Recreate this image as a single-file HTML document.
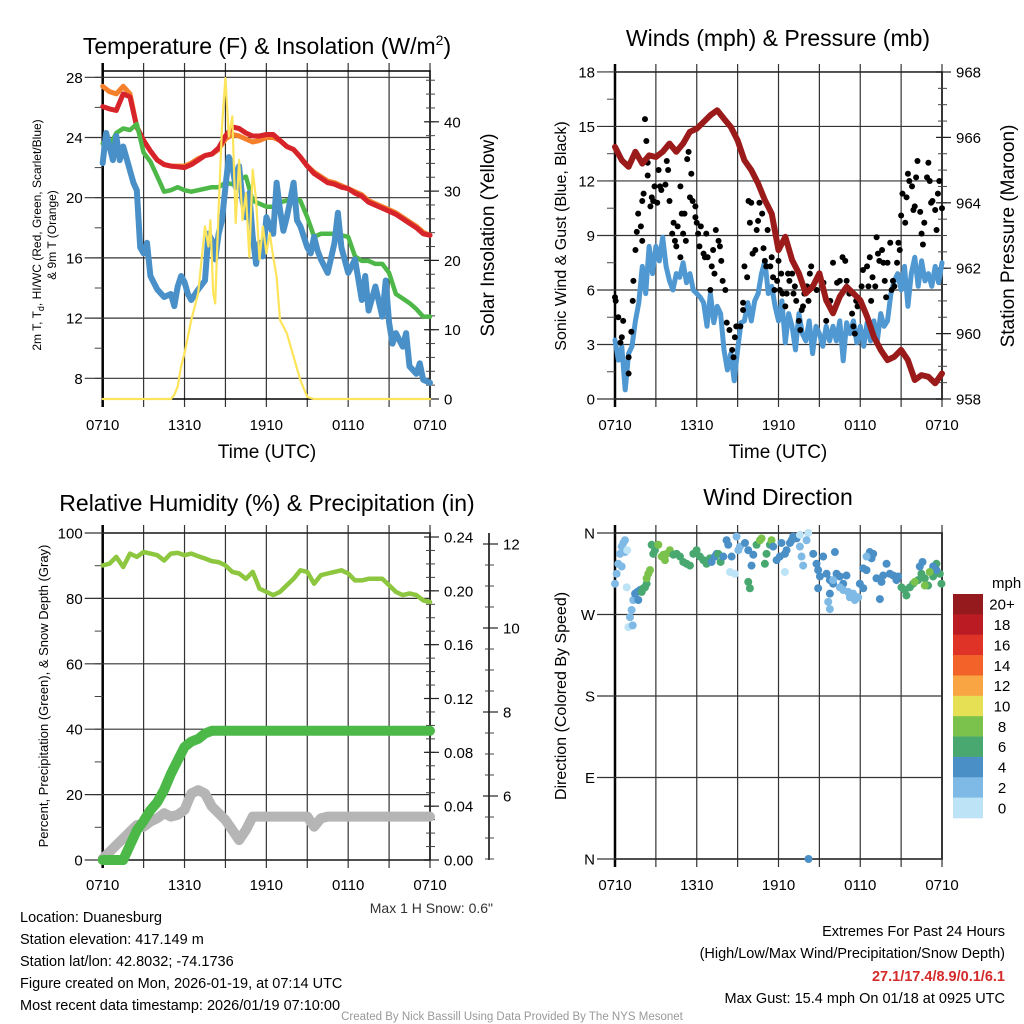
<!DOCTYPE html>
<html><head><meta charset="utf-8"><style>
html,body{margin:0;padding:0;background:#fff;}
svg{display:block;font-family:"Liberation Sans",sans-serif;}
</style></head><body>
<svg id="fig" width="1024" height="1024" viewBox="0 0 1024 1024" xmlns="http://www.w3.org/2000/svg">
<text x="267" y="54" font-size="23" text-anchor="middle">Temperature (F) &amp; Insolation (W/m<tspan font-size="14" dy="-9">2</tspan><tspan dy="9">)</tspan></text>
<text x="778" y="46" font-size="23" text-anchor="middle">Winds (mph) &amp; Pressure (mb)</text>
<text x="267" y="511" font-size="23" text-anchor="middle">Relative Humidity (%) &amp; Precipitation (in)</text>
<text x="778" y="505" font-size="23" text-anchor="middle">Wind Direction</text>

<text x="267" y="458" font-size="19" text-anchor="middle">Time (UTC)</text>
<text x="778" y="458" font-size="19" text-anchor="middle">Time (UTC)</text>

<text transform="translate(41,235) rotate(-90)" font-size="12" text-anchor="middle">2m T, T<tspan font-size="9" dy="3">d</tspan><tspan dy="-3">, HI/WC (Red, Green, Scarlet/Blue)</tspan></text>
<text transform="translate(56,235) rotate(-90)" font-size="12" text-anchor="middle">&amp; 9m T (Orange)</text>
<text transform="translate(494,235) rotate(-90)" font-size="19" text-anchor="middle">Solar Insolation (Yellow)</text>
<text transform="translate(566,236) rotate(-90)" font-size="16" text-anchor="middle">Sonic Wind &amp; Gust (Blue, Black)</text>
<text transform="translate(1014,236) rotate(-90)" font-size="19" text-anchor="middle">Station Pressure (Maroon)</text>
<text transform="translate(48,696) rotate(-90)" font-size="13" text-anchor="middle">Percent, Precipitation (Green), &amp; Snow Depth (Gray)</text>
<text transform="translate(566,696) rotate(-90)" font-size="16" text-anchor="middle">Direction (Colored By Speed)</text>

<text x="493" y="913" font-size="14" text-anchor="end" fill="#333">Max 1 H Snow: 0.6"</text>
<g font-size="14.5">
<text x="20" y="922">Location: Duanesburg</text>
<text x="20" y="944">Station elevation: 417.149 m</text>
<text x="20" y="966">Station lat/lon: 42.8032; -74.1736</text>
<text x="20" y="988">Figure created on Mon, 2026-01-19, at 07:14 UTC</text>
<text x="20" y="1010">Most recent data timestamp: 2026/01/19 07:10:00</text>
</g>
<g font-size="14.5" text-anchor="end">
<text x="1005" y="936">Extremes For Past 24 Hours</text>
<text x="1005" y="958">(High/Low/Max Wind/Precipitation/Snow Depth)</text>
<text x="1005" y="981" fill="#d42a2a" font-weight="bold">27.1/17.4/8.9/0.1/6.1</text>
<text x="1005" y="1003">Max Gust: 15.4 mph On 01/18 at 0925 UTC</text>
</g>
<text x="512" y="1020" font-size="11.5" text-anchor="middle" fill="#999">Created By Nick Bassill Using Data Provided By The NYS Mesonet</text>
</svg>
<script>
// ---------- data ----------
const xTickLabels = ['0710','1310','1910','0110','0710'];
const xTickHours = [0,6,12,18,24];
const halfStep = 0.5;
const redT = [26.05,25.9,25.8,26.9,26.7,24.7,23.8,23.1,22.5,22.2,22.1,22.05,22.0,22.2,22.5,22.8,22.9,23.3,24.1,24.7,24.6,24.3,24.1,24.1,24.2,24.2,23.8,23.4,23.2,22.7,22.1,21.6,21.3,21.0,20.9,20.7,20.6,20.3,20.1,19.7,19.5,19.3,19.1,18.9,18.6,18.3,18.0,17.6,17.5];
const orangeT9 = [27.4,27.05,26.9,27.4,26.9,24.7,23.8,23.1,22.5,22.2,22.1,22.1,22.1,22.3,22.6,22.8,22.9,23.2,23.9,24.2,24.1,23.9,23.7,23.8,24.0,24.0,23.8,23.4,23.2,22.7,22.1,21.7,21.4,21.1,21.0,20.8,20.6,20.4,20.2,19.8,19.6,19.4,19.2,19.0,18.7,18.4,18.1,17.7,17.5];
const greenTd = [23.6,23.4,24.3,24.6,24.5,24.9,23.0,22.4,21.4,20.4,20.5,20.7,20.5,20.4,20.5,20.6,20.7,20.7,21.0,20.9,21.2,21.4,19.8,19.6,19.4,19.4,19.7,19.8,20.0,19.8,18.7,17.4,17.6,17.6,17.6,17.5,17.4,16.1,15.8,15.8,15.6,15.6,15.0,13.6,13.3,13.0,12.6,12.1,12.1];
const wcHours = [0,0.25,0.5,0.75,1,1.25,1.5,2,2.25,2.5,2.75,3,3.25,3.5,4,4.5,5,5.25,5.5,5.75,6,6.25,6.5,7,7.5,7.75,8,8.25,8.5,8.75,9,9.25,9.5,9.75,10,10.25,10.5,10.75,11,11.25,11.5,11.75,12,12.5,12.75,13,13.25,13.5,13.75,14,14.25,14.5,15,15.25,15.5,15.75,16,16.5,17,17.25,17.5,18,18.5,19,19.25,19.5,20,20.5,20.75,21,21.25,21.5,22,22.25,22.5,23,23.25,23.5,24];
const wcVals = [22.3,24.3,23.4,22.5,24.1,22.5,23.4,21.8,21.0,20.5,16.7,16.3,17.0,14.8,13.9,13.4,13.6,12.8,14.1,14.8,14.4,13.6,13.2,13.9,14.5,17.6,17.2,15.9,17.6,18.5,20.7,22.7,22.1,20.7,22.1,19.8,18.7,20.3,17.4,15.6,17.0,16.1,18.7,17.6,21.0,19.2,17.8,18.7,19.8,21.0,18.5,18.1,16.7,16.3,17.4,16.5,15.9,15.0,17.0,19.0,16.7,15.0,15.9,13.2,14.8,12.5,14.1,12.1,14.5,11.7,10.3,11.0,10.1,11.0,8.8,8.3,9.0,7.9,7.7];
const solarHours = [0,5,5.25,5.5,5.75,6,6.5,7,7.25,7.5,7.75,7.9,8.1,8.25,8.5,8.75,9,9.25,9.5,9.75,10,10.25,10.5,10.75,11,11.25,11.5,11.75,12,12.25,12.5,12.75,13,13.5,14,14.5,15,15.5,24];
const solarVals = [0,0,0.6,1.8,4.7,6.6,11.4,15.3,20.1,24.9,22,25.8,15.3,13.8,27.3,39.3,46.3,37.9,40.8,25.4,34.5,25.8,29.7,20.5,33.1,28.7,20.1,24.9,21.0,23.9,20.5,17.7,11.4,9.5,6.1,2.7,0.3,0,0];
const tempTicks = [8,12,16,20,24,28];
const solarTicks = [0,10,20,30,40];

const pressure = [965.71,965.30,965.10,965.56,965.2,965.45,965.4,965.56,965.81,965.56,965.81,966.17,966.27,966.47,966.68,966.83,966.57,966.32,965.91,965.30,965.0,964.59,964.08,963.67,962.55,962.96,962.25,961.84,961.23,961.43,961.84,961.02,960.62,961.13,961.43,961.23,961.02,960.52,959.9,959.5,959.19,959.29,959.5,959.19,958.58,958.73,958.68,958.48,958.78];
const windStep = 0.25;
const windSpeed = [3.24,2.14,2.88,0.5,2.5,2.9,4.3,5.3,7.3,5.8,8.4,6.9,8.4,7.6,8.9,7.3,6.5,6.0,6.9,6.7,7.5,6.4,6.9,6.0,5.8,5.6,5.3,4.0,5.8,4.2,5.1,4.7,2.7,1.6,2.5,1.0,2.7,4.2,4.3,5.3,4.3,5.4,5.8,6.9,7.6,5.8,6.2,5.1,4.3,5.4,3.1,4.7,4.0,2.7,4.7,3.6,3.2,4.3,2.5,4.0,3.6,2.9,4.0,3.2,4.0,3.2,4.3,2.1,4.2,3.6,4.3,3.1,4.0,2.9,4.2,3.2,4.3,3.2,4.7,4.0,4.3,5.8,6.5,6.9,6.0,7.3,5.1,6.9,7.8,6.2,7.6,6.5,6.9,6.2,7.3,6.4,7.5];
const gustHours = [0,0.05,0.24,0.5,0.4,0.6,1,1,1.2,1.3,1.35,1.5,1.6,1.7,1.9,2,2,2.1,2.2,2.3,2.4,2.4,2.6,2.7,2.8,2.9,3.1,3.2,3.3,3.4,3.7,3.8,3.9,4.0,4.2,4.3,4.4,4.5,4.6,4.8,4.8,4.9,5,5.1,5.2,5.3,5.4,5.5,5.6,5.7,5.9,5.9,6,6.1,6.2,6.3,6.5,6.6,6.7,6.8,7,7.1,7.2,7.3,7.4,7.6,7.7,7.8,7.9,8.1,8.2,8.4,8.6,8.7,8.8,8.9,9.2,9.4,9.4,9.5,9.7,9.8,9.9,10,10.1,10.3,10.4,10.5,10.6,10.8,10.9,11,11.1,11.2,11.4,11.5,11.6,11.7,11.9,12,12.1,12.2,12.3,12.5,12.6,12.7,12.8,13,13.1,13.2,13.3,13.5,13.6,13.7,13.8,13.9,14.1,14.2,14.3,14.4,14.5,14.8,15,15.3,15.5,15.8,16,16.3,16.5,16.7,16.9,17,17.2,17.4,17.5,17.6,17.7,17.8,18.1,18.2,18.5,18.6,18.7,18.8,18.9,19.1,19.2,19.3,19.4,19.6,19.7,19.8,19.9,20,20.2,20.3,20.4,20.5,20.7,20.8,20.9,21,21.1,21.3,21.4,21.5,21.6,21.8,21.9,22,22.1,22.2,22.4,22.5,22.6,22.7,22.9,23,23.1,23.2,23.3,23.5,23.6,23.7,23.8,24];
const gustVals = [5.6,5.4,4.5,3.4,3.1,4.3,2.3,1.4,3.7,5.4,6.5,8.2,9.2,10.2,9.5,8.7,10.9,11.3,15.4,14.2,13.0,12.3,10.6,11.1,10.9,11.7,10.8,12.6,11.7,11.5,11.8,13.1,12.6,10.9,9.1,9.7,8.7,8.4,9.5,11.7,7.8,10.2,9.1,10.2,8.7,13.2,13.6,11.1,12.4,10.9,10.6,10.0,9.7,9.1,8.4,9.5,8.0,7.8,9.1,7.8,6.0,7.3,8.2,6.9,9.3,8.7,8.4,7.6,6.5,6.0,4.2,3.8,2.7,2.3,3.4,4.0,4.0,5.3,4.9,7.3,6.7,10.9,9.7,10.8,8.0,8.2,9.3,9.8,10.8,10.2,8.3,7.6,7.3,9.3,7.3,7.8,6.7,6.0,6.5,7.6,6.0,6.9,5.8,5.1,5.8,6.9,6.5,6.9,5.8,6.2,5.4,4.3,3.8,4.9,5.1,5.8,6.2,5.4,6.9,7.3,6.2,6.0,6.9,6.4,4.3,5.4,7.5,6.4,6.5,7.8,7.6,6.5,5.8,4.7,4.0,3.6,5.4,5.1,6.2,7.1,7.3,6.2,7.8,5.4,6.7,6.2,8.9,8.0,7.6,8.2,7.5,6.5,5.6,7.5,8.6,6.0,6.5,6.2,7.5,8.6,8.2,10.1,11.3,9.7,11.1,12.4,12.0,11.7,10.4,10.6,12.2,13.1,10.3,9.1,8.5,9.7,12.2,13.0,12.0,10.8,10.9,10.4,9.3,11.3,12.0,10.5];
const windTicks = [0,3,6,9,12,15,18];
const pressTicks = [958,960,962,964,966,968];

const rhVals = [90.1,90.6,92.7,89.6,93.7,92.7,94.2,93.7,93.2,91.6,93.7,93.9,93.2,93.7,92.9,92.2,91.4,91.1,90.1,88.1,87.6,86.0,88.1,83.0,82.0,81.0,82.0,84.0,86.0,88.6,88.1,84.5,87.1,87.6,88.1,88.6,87.6,85.5,85.5,86.0,86.0,86.0,84.0,82.0,81.0,81.5,81.0,79.4,78.9];
const precipVals = [0,0,0,0,0.011,0.022,0.029,0.037,0.043,0.052,0.064,0.074,0.084,0.088,0.090,0.094,0.096,0.096,0.096,0.096,0.096,0.096,0.096,0.096,0.096,0.096,0.096,0.096,0.096,0.096,0.096,0.096,0.096,0.096,0.096,0.096,0.096,0.096,0.096,0.096,0.096,0.096,0.096,0.096,0.096,0.096,0.096,0.096,0.096];
const snowVals = [4.51,4.67,4.83,4.99,5.15,5.31,5.27,5.39,5.47,5.59,5.51,5.55,5.67,6.06,6.14,6.06,5.75,5.59,5.43,5.19,4.95,5.19,5.51,5.51,5.51,5.51,5.51,5.51,5.51,5.51,5.51,5.27,5.47,5.51,5.51,5.51,5.51,5.51,5.51,5.51,5.51,5.51,5.51,5.51,5.51,5.51,5.51,5.51,5.51];
const pctTicks = [0,20,40,60,80,100];
const precipTicks = [0,0.04,0.08,0.12,0.16,0.20,0.24];
const precipTickLabels = ['0.00','0.04','0.08','0.12','0.16','0.20','0.24'];
const snowTicks = [6,8,10,12];

const dirHours = [0,0.12,0.24,0.37,0.49,0.61,0.73,0.73,0.49,0.86,0.9,0.98,1.1,1.22,1.3,1.34,1.47,1.64,1.71,1.83,1.96,2.08,2.2,2.32,2.32,2.44,2.57,2.69,2.81,2.93,3.18,3.42,3.55,3.67,3.79,4.03,4.28,4.52,4.77,5.01,5.26,5.5,5.75,5.99,6.23,6.48,6.72,6.97,7.09,7.33,7.46,7.58,7.75,7.95,8.19,8.31,8.56,8.44,8.8,8.92,9.05,9.17,9.54,9.78,10.02,10.15,9.78,9.9,10.39,10.64,10.76,11,11.12,11.37,11.49,11.61,11.86,12.1,12.22,12.47,12.59,12.84,12.96,13.08,13.33,12.47,13.57,14.18,13.57,13.69,13.81,14.06,14.55,14.79,14.91,15.04,14.91,15.28,15.53,15.77,15.77,16.01,16.14,16.26,16.5,16.75,16.99,15.65,15.77,16.01,16.5,16.75,17.11,17.24,17.48,17.6,17.85,17.97,18.22,18.22,18.46,18.7,18.83,18.95,19.19,19.44,19.56,19.68,19.93,20.17,20.42,20.66,20.78,18.46,21.03,21.27,21.39,21.64,21.88,22.25,22.49,22.74,22.98,23.35,23.59,23.84,23.96,22.37,22.57,23.35,23.59,22.0,22.74,23.1,14.2];
const dirDegs = [304,315,326,337,345,349,352,339,323,300,341,256,267,275,258,286,293,295,286,297,295,299,300,304,310,315,319,347,337,341,347,334,336,330,337,341,336,337,334,328,326,324,337,341,334,330,326,332,328,334,337,337,328,334,352,347,334,317,315,356,341,345,349,341,324,336,306,299,347,352,354,326,337,347,352,345,330,334,349,337,341,349,352,356,354,317,358,360,345,334,324,352,337,326,319,312,299,334,315,308,293,304,339,315,312,304,313,284,276,308,300,297,295,289,293,286,289,304,299,321,319,339,332,337,310,287,306,313,326,315,313,308,312,334,300,297,291,300,304,308,315,310,302,312,326,315,304,323,328,323,319,306,302,317,0];
const dirSpeeds = [3,3,3,3,3,3,3,3,3,1,1,1,3,3,3,3,5,5,5,5,7,7,7,7,9,9,9,7,7,7,9,9,9,9,9,9,7,7,7,7,7,7,7,7,7,7,7,7,5,5,5,7,7,5,5,5,5,1,1,3,3,3,5,5,5,5,7,7,7,9,9,7,7,7,9,5,5,5,5,5,5,5,5,5,5,1,1,1,3,3,3,3,5,5,5,5,5,5,5,5,5,5,5,5,5,5,5,3,3,3,3,3,3,3,3,3,3,5,5,5,5,5,5,5,5,5,5,5,5,5,5,5,5,3,7,7,7,7,7,7,7,7,7,7,7,7,7,5,5,5,5,9,9,9,5];
const dirTicks = [360,270,180,90,0];
const dirTickLabels = ['N','W','S','E','N'];
const speedBins = [0,2,4,6,8,10,12,14,16,18,20];
const speedLabels = ['0','2','4','6','8','10','12','14','16','18','20+'];
const speedColors = ['#bde3f7','#7fbae6','#4a8fc6','#48a870','#7bc24c','#e6e055','#f9a543','#f26229','#e03327','#bb1c24','#951a1d'];

// ---------- helpers ----------
const NS = 'http://www.w3.org/2000/svg';
const svg = document.getElementById('fig');
function mk(tag, attrs, parent) {
  const e = document.createElementNS(NS, tag);
  for (const k in attrs) e.setAttribute(k, attrs[k]);
  (parent || svg).appendChild(e);
  return e;
}
function pathFrom(xs, ys) {
  return xs.map((x, i) => (i ? 'L' : 'M') + x.toFixed(1) + ',' + ys[i].toFixed(1)).join('');
}

// panel geometry
const P1 = {x0:102.7, x1:430, y0:71, y1:399};
const P2 = {x0:615, x1:942, y0:72, y1:399};
const P3 = {x0:102.7, x1:430, y0:533, y1:860};
const P4 = {x0:615, x1:942, y0:533, y1:859};
function xScale(P) { return h => P.x0 + h * (P.x1 - P.x0) / 24; }
const x1s = xScale(P1), x2s = xScale(P2), x3s = xScale(P3), x4s = xScale(P4);
const tempY = v => 378.3 - (v - 8) * 15.05;
const solarY = v => 399 - v * 6.93;
const windY = v => 399 - v * 18.17;
const pressY = v => 399 - (v - 958) * 32.7;
const pctY = v => 860 - v * 3.27;
const precipY = v => 860 - v / 0.24 * 323;
const snowY = v => 880 - (v - 4) * 42;
const dirY = d => 859 - d * (326 / 360);

function frame(P, name, xlabelsY) {
  const g = mk('g', {});
  
  
  const xs = xScale(P);
  for (let h = 0; h <= 24; h += 3) {
    const ln = mk('line', {x1: xs(h), x2: xs(h), y1: P.y0 - 8, y2: P.y1 + 8, stroke: '#333', 'stroke-width': 1.2}, g);
    
    
  }
  xTickHours.forEach((h, i) => {
    const t = mk('text', {x: xs(h), y: xlabelsY, 'font-size': 15, 'text-anchor': 'middle'}, g);
    t.textContent = xTickLabels[i];
    
    
  });
  const box = mk('rect', {x: P.x0, y: P.y0, width: P.x1 - P.x0, height: P.y1 - P.y0, fill: 'none', stroke: '#000', 'stroke-width': 1.5}, g);
  
  
  const la = mk('line', {x1: P.x0, x2: P.x0, y1: P.y0 - 8, y2: P.y1 + 8, stroke: '#000', 'stroke-width': 2.5}, g);
  
  
  return g;
}
function leftAxis(P, g, ticks, yf, labels, name, minorStep) {
  const lo = Math.min(...ticks), hi = Math.max(...ticks);
  for (let v = lo - minorStep * 4; v <= hi + minorStep * 4 + 1e-9; v += minorStep) {
    const y = yf(v);
    if (y < P.y0 - 1 || y > P.y1 + 1) continue;
    const m = mk('line', {x1: P.x0 - 8, x2: P.x0, y1: y, y2: y, stroke: '#444', 'stroke-width': 1}, g);
    
    
  }
  ticks.forEach((v, i) => {
    const y = yf(v);
    const ln = mk('line', {x1: P.x0 - 18, x2: P.x1, y1: y, y2: y, stroke: '#333', 'stroke-width': 1.2}, g);
    
    
    const t = mk('text', {x: P.x0 - 20, y: y + 5.5, 'font-size': 15, 'text-anchor': 'end'}, g);
    t.textContent = labels[i];
    
    
  });
}
function rightAxis(xA, P, g, ticks, yf, labels, name, minorStep, withLine) {
  if (withLine) {
    const a = mk('line', {x1: xA, x2: xA, y1: P.y0, y2: P.y1, stroke: '#000', 'stroke-width': 1.5}, g);
    
    
  }
  const lo = Math.min(...ticks), hi = Math.max(...ticks);
  for (let v = lo - minorStep * 8; v <= hi + minorStep * 8 + 1e-9; v += minorStep) {
    const y = yf(v);
    if (y < P.y0 - 1 || y > P.y1 + 1) continue;
    const m = mk('line', {x1: xA - 4, x2: xA + 5, y1: y, y2: y, stroke: '#444', 'stroke-width': 1}, g);
    
    
  }
  ticks.forEach((v, i) => {
    const y = yf(v);
    const ln = mk('line', {x1: xA - 6, x2: xA + 9, y1: y, y2: y, stroke: '#222', 'stroke-width': 1.2}, g);
    
    
    const t = mk('text', {x: xA + 14, y: y + 5.5, 'font-size': 15}, g);
    t.textContent = labels[i];
    
    
  });
}
function drawLine(xs, ys, color, w, name, parent) {
  const p = mk('path', {d: pathFrom(xs, ys), fill: 'none', stroke: color, 'stroke-width': w, 'stroke-linejoin': 'round', 'stroke-linecap': 'round'}, parent);
  
  
  return p;
}
const idxHours = (arr, step) => arr.map((_, i) => i * step);

// ---------- panel 1 ----------
const g1 = frame(P1, 'temperature', 430);
leftAxis(P1, g1, tempTicks, tempY, tempTicks.map(String), 'temperature', 2);
rightAxis(P1.x1, P1, g1, solarTicks, solarY, solarTicks.map(String), 'insolation', 2, false);
const h49 = idxHours(redT, halfStep);
drawLine(h49.map(x1s), orangeT9.map(tempY), '#f4802c', 5, 'series-9m-temperature', g1);
drawLine(h49.map(x1s), redT.map(tempY), '#d7232a', 5, 'series-2m-temperature', g1);
drawLine(h49.map(x1s), greenTd.map(tempY), '#4db848', 4.5, 'series-dewpoint', g1);
drawLine(wcHours.map(x1s), wcVals.map(tempY), '#4a90c8', 6, 'series-heat-index-wind-chill', g1);
drawLine(solarHours.map(x1s), solarVals.map(solarY), '#fde45a', 2.2, 'series-solar-insolation', g1);

// ---------- panel 2 ----------
const g2 = frame(P2, 'winds', 430);
leftAxis(P2, g2, windTicks, windY, windTicks.map(String), 'winds', 1.5);
rightAxis(P2.x1, P2, g2, pressTicks, pressY, pressTicks.map(String), 'pressure', 0.5, false);
drawLine(idxHours(windSpeed, windStep).map(x2s), windSpeed.map(windY), '#4f98d2', 5, 'series-sonic-wind', g2);
gustHours.forEach((h, i) => {
  const c = mk('circle', {cx: x2s(h), cy: windY(gustVals[i]), r: 3, fill: '#000'}, g2);
  
  
});
drawLine(idxHours(pressure, halfStep).map(x2s), pressure.map(pressY), '#9b1b1b', 6, 'series-station-pressure', g2);

// ---------- panel 3 ----------
const g3 = frame(P3, 'humidity', 890);
leftAxis(P3, g3, pctTicks, pctY, pctTicks.map(String), 'humidity', 10);
rightAxis(P3.x1, P3, g3, precipTicks, precipY, precipTickLabels, 'precipitation', 0.01, false);
rightAxis(489, P3, g3, snowTicks, snowY, snowTicks.map(String), 'snow-depth', 0.5, true);
const h49b = idxHours(rhVals, halfStep);
drawLine(h49b.map(x3s), snowVals.map(snowY), '#b5b5b5', 10, 'series-snow-depth', g3);
drawLine(h49b.map(x3s), precipVals.map(precipY), '#4cb848', 10, 'series-precipitation', g3);
drawLine(h49b.map(x3s), rhVals.map(pctY), '#8dc63f', 4.5, 'series-relative-humidity', g3);

// ---------- panel 4 ----------
const g4 = frame(P4, 'direction', 890);
dirTicks.forEach((d, i) => {
  const y = dirY(d);
  const ln = mk('line', {x1: P4.x0 - 18, x2: P4.x1, y1: y, y2: y, stroke: '#333', 'stroke-width': 1.2}, g4);
  
  
  const t = mk('text', {x: P4.x0 - 20, y: y + 5.5, 'font-size': 15, 'text-anchor': 'end'}, g4);
  t.textContent = dirTickLabels[i];
  
  
});
function speedColor(s) {
  let k = 0;
  speedBins.forEach((b, i) => { if (s >= b) k = i; });
  return speedColors[k];
}
dirHours.forEach((h, i) => {
  const c = mk('circle', {cx: x4s(h), cy: dirY(dirDegs[i]), r: 4, fill: speedColor(dirSpeeds[i])}, g4);
  
  
});
// colorbar
const cb = mk('g', {});


const cbTop = 594, cbH = 224 / speedColors.length;
const cbTitle = mk('text', {x: 992, y: 588, 'font-size': 15}, cb);
cbTitle.textContent = 'mph';


speedColors.forEach((col, i) => {
  const k = speedColors.length - 1 - i;
  const r = mk('rect', {x: 953, y: cbTop + i * cbH, width: 30, height: cbH + 0.3, fill: speedColors[k]}, cb);
  
  
  const t = mk('text', {x: 1002, y: cbTop + i * cbH + cbH / 2 + 5.5, 'font-size': 15, 'text-anchor': 'middle'}, cb);
  t.textContent = speedLabels[k];
  
  
});
</script>
</body></html>
